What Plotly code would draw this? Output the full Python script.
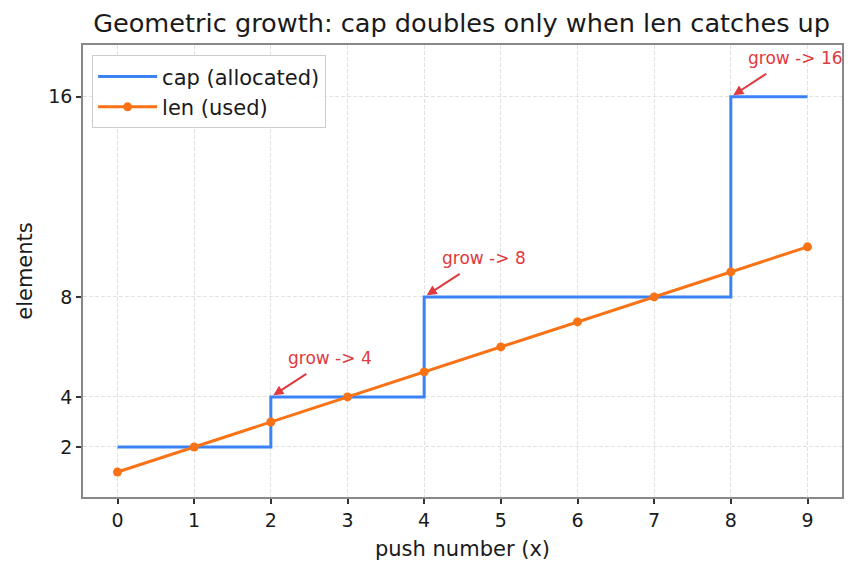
import plotly.graph_objects as go

x_push = [0, 1, 2, 3, 4, 5, 6, 7, 8, 9]
cap_vals = [2, 2, 4, 4, 8, 8, 8, 8, 16, 16]
len_vals = [1, 2, 3, 4, 5, 6, 7, 8, 9, 10]
y_ticks = [2, 4, 8, 16]
grow_x = [2, 4, 8]
grow_y = [4, 8, 16]
grow_labels = ["grow -> 4", "grow -> 8", "grow -> 16"]

FONT = "DejaVu Sans"
BLUE = "#3b82f6"
ORANGE = "#f97316"
RED = "#e0393e"
TXT = "#1a1a1a"

fig = go.Figure()
fig.add_trace(go.Scatter(x=x_push, y=cap_vals, mode="lines", name="cap (allocated)",
                         line=dict(color=BLUE, width=3, shape="hv")))
fig.add_trace(go.Scatter(x=x_push, y=len_vals, mode="lines+markers", name="len (used)",
                         line=dict(color=ORANGE, width=3),
                         marker=dict(color=ORANGE, size=9)))

for gx, gy, lab in zip(grow_x, grow_y, grow_labels):
    # arrow
    fig.add_annotation(x=gx, y=gy, xref="x", yref="y", text="", showarrow=True,
                       ax=37, ay=-24, arrowhead=2, arrowsize=1, arrowwidth=2,
                       arrowcolor=RED, standoff=3)
    # label
    fig.add_annotation(x=gx + 0.2, y=gy + 1.55, xref="x", yref="y", text=lab,
                       showarrow=False, xanchor="left", yanchor="middle",
                       font=dict(family=FONT, size=17, color=RED))

fig.update_layout(
    width=858, height=573,
    margin=dict(l=83, r=16, t=45, b=76),
    paper_bgcolor="white", plot_bgcolor="white",
    font=dict(family=FONT, size=19, color=TXT),
    title=dict(text="Geometric growth: cap doubles only when len catches up",
               x=0.538, xanchor="center", y=0.976, yanchor="top",
               font=dict(family=FONT, size=25.6, color=TXT)),
    showlegend=True,
    legend=dict(x=0.012, y=0.977, xanchor="left", yanchor="top",
                bgcolor="rgba(255,255,255,0.9)", bordercolor="#cccccc", borderwidth=1,
                font=dict(family=FONT, size=21, color=TXT),
                itemwidth=59, tracegroupgap=2),
)
fig.update_xaxes(range=[-0.45, 9.45], tickmode="array", tickvals=x_push,
                 ticks="outside", ticklen=5, tickwidth=1.5, tickcolor="#333",
                 showline=True, linecolor="#888", linewidth=1.5, mirror=True,
                 showgrid=True, gridcolor="#e2e2e2", griddash="4px,2px", gridwidth=1,
                 zeroline=False,
                 title=dict(text="push number (x)", font=dict(family=FONT, size=21, color=TXT), standoff=12),
                 tickfont=dict(family=FONT, size=19, color=TXT))
fig.update_yaxes(range=[0, 18.07], tickmode="array", tickvals=y_ticks,
                 ticks="outside", ticklen=5, tickwidth=1.5, tickcolor="#333",
                 showline=True, linecolor="#888", linewidth=1.5, mirror=True,
                 showgrid=True, gridcolor="#e2e2e2", griddash="4px,2px", gridwidth=1,
                 zeroline=False,
                 title=dict(text="elements", font=dict(family=FONT, size=21, color=TXT), standoff=10),
                 tickfont=dict(family=FONT, size=19, color=TXT))

fig.write_html("out.html")
